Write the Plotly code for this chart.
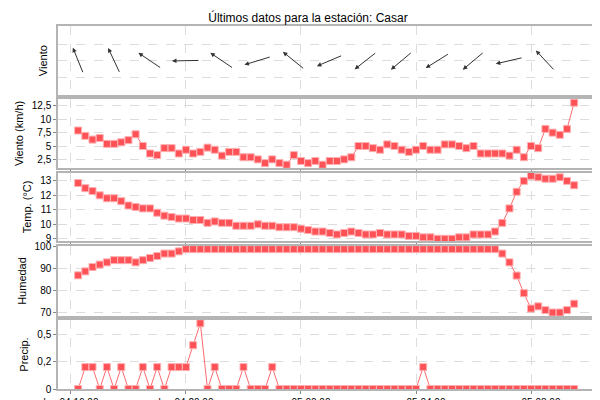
import numpy as np
import pandas as pd
import plotly.graph_objects as go
from plotly.subplots import make_subplots

# Data (15-minute readings)
times = pd.date_range("2024-03-04 16:15", periods=70, freq="15min")

wind_kmh = [7.9, 6.9, 6.2, 6.5, 5.4, 5.4, 5.7, 6.1, 7.2, 5.0, 3.6, 3.3, 4.6, 4.6, 3.6, 4.3,
            3.6, 3.9, 4.7, 4.3, 3.2, 3.9, 3.9, 2.9, 2.9, 2.5, 1.8, 2.5, 1.8, 1.5, 3.3, 2.2,
            1.8, 2.2, 1.5, 2.2, 2.2, 2.5, 2.9, 5.0, 5.0, 4.6, 4.3, 5.3, 5.0, 4.3, 3.9, 4.3,
            5.0, 4.3, 4.3, 5.3, 5.3, 5.0, 4.6, 5.0, 3.6, 3.6, 3.6, 3.6, 3.2, 4.3, 2.9, 5.0,
            4.6, 8.2, 7.5, 7.1, 8.2, 13.1]

temp = [12.85, 12.5, 12.3, 12.0, 11.8, 11.8, 11.6, 11.3, 11.2, 11.1, 11.1, 10.8, 10.6, 10.5,
        10.4, 10.4, 10.3, 10.3, 10.1, 10.2, 10.1, 10.1, 9.9, 9.9, 9.9, 10.0, 9.9, 9.9, 9.8,
        9.8, 9.8, 9.7, 9.6, 9.5, 9.5, 9.4, 9.3, 9.4, 9.5, 9.4, 9.3, 9.3, 9.4, 9.3, 9.3, 9.3,
        9.2, 9.2, 9.1, 9.1, 9.0, 9.0, 9.0, 9.1, 9.1, 9.3, 9.3, 9.3, 9.5, 10.1, 11.1, 12.25,
        13.0, 13.35, 13.25, 13.15, 13.15, 13.25, 13.0, 12.7]

humidity = ([87.1, 88.9, 90.9, 92, 93, 94, 94, 94, 93, 94, 95, 95.9, 97, 97, 98]
            + [99] * 44
            + [97, 93, 87, 79, 72, 73, 71.3, 70.2, 70.2, 71.3, 74.2])

precip = [0, 0.2, 0.2, 0, 0.2, 0, 0.2, 0, 0, 0.2, 0, 0.2, 0, 0.2, 0.2, 0.2, 0.4, 0.6, 0,
          0.2, 0, 0, 0, 0.2, 0, 0, 0, 0.2] + [0] * 20 + [0.2] + [0] * 21

# wind direction (degrees, where the wind comes from), one arrow every 5 readings
arrow_times = times[::5]
wind_dir = [158, 155, 124, 89, 124, 73, 129, 67, 52, 50, 58, 50, 77, 137]

tick_vals = pd.to_datetime(["2024-03-04 16:00", "2024-03-04 20:00", "2024-03-05 00:00",
                            "2024-03-05 04:00", "2024-03-05 08:00"])
tick_text = ["lun 04 16:00", "lun 04 20:00", "mar 05 00:00", "mar 05 04:00", "mar 05 08:00"]

red = "#ff5257"
fig = make_subplots(rows=5, cols=1, shared_xaxes=True, vertical_spacing=0.01)

for row, vals in [(2, wind_kmh), (3, temp), (4, humidity), (5, precip)]:
    fig.add_trace(go.Scatter(x=times, y=vals, mode="lines+markers",
                             line=dict(color="#ff6a6e", width=1),
                             marker=dict(symbol="square", size=7, color=red,
                                         line=dict(color="#ffb0b2", width=1)),
                             showlegend=False), row=row, col=1)

# arrows
fig.add_trace(go.Scatter(x=arrow_times, y=[0] * len(arrow_times), mode="markers",
                         marker=dict(opacity=0), showlegend=False, hoverinfo="skip"),
              row=1, col=1)
L = 28
for t, d in zip(arrow_times, wind_dir):
    b = np.radians((d + 180) % 360)
    fig.add_annotation(x=t, y=0, xref="x", yref="y", text="", showarrow=True,
                       arrowhead=2, arrowsize=0.9, arrowwidth=1, arrowcolor="#333",
                       ax=-L * np.sin(b), ay=L * np.cos(b),
                       xshift=L / 2 * np.sin(b), yshift=L / 2 * np.cos(b))

domains = [(0.809, 1.0), (0.609, 0.799), (0.407, 0.596), (0.201, 0.394), (0.0, 0.19)]
titles = ["Viento", "Viento (km/h)", "Temp. (°C)", "Humedad", "Precip."]
grid = dict(showgrid=True, gridcolor="#dcdcdc", griddash="dash", gridwidth=1,
            showline=True, linecolor="#b4b4b4", linewidth=1.5, mirror=True,
            ticks="outside", ticklen=3, tickcolor="#888", zeroline=False, automargin=False)
for i in range(5):
    fig.update_yaxes(domain=domains[i], title_text=titles[i],
                     title_font=dict(size=11), title_standoff=6, **grid, row=i + 1, col=1)
    fig.update_xaxes(range=["2024-03-04 15:33", "2024-03-05 10:26"],
                     tickvals=tick_vals, ticktext=tick_text,
                     showticklabels=(i == 4), **grid, row=i + 1, col=1)

fig.update_yaxes(range=[-2.1, 2.1], tickvals=[-1, 0, 1], showticklabels=False, ticks="", row=1, col=1)
fig.update_yaxes(range=[0.9, 13.8], tickvals=[2.5, 5, 7.5, 10, 12.5], row=2, col=1)
fig.update_yaxes(range=[8.83, 13.57], tickvals=[9, 10, 11, 12, 13], row=3, col=1)
fig.update_yaxes(range=[68.6, 100.45], tickvals=[70, 80, 90, 100], row=4, col=1)
fig.update_yaxes(range=[0, 0.63], tickvals=[0, 0.25, 0.5], ticktext=["0", "0,2", "0,5"], row=5, col=1)

fig.update_layout(
    width=600, height=400, separators=",.",
    margin=dict(l=50, r=7, t=18, b=19),
    paper_bgcolor="white", plot_bgcolor="white",
    font=dict(family="Liberation Sans, Arial", size=10, color="#000"),
    title=dict(text="Últimos datos para la estación: Casar", x=0.5, y=0.985,
               xanchor="center", yanchor="top", font=dict(size=12)),
)

fig.write_html("out.html")
